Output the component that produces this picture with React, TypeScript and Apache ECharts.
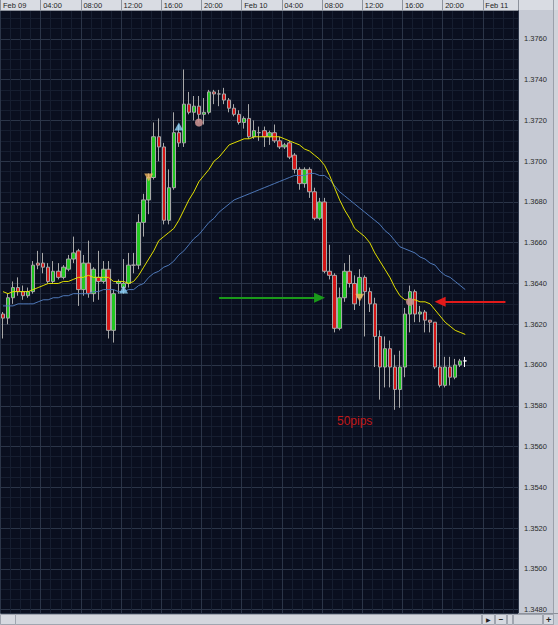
import React, { useEffect, useRef } from 'react';
import * as echarts from 'echarts';

// Header (time) labels, one every 8 half-hour slots
const headerLabels = ['Feb 09', '04:00', '08:00', '12:00', '16:00', '20:00', 'Feb 10', '04:00', '08:00', '12:00', '16:00', '20:00', 'Feb 11'];
const dayNames = ['Feb 09', 'Feb 10', 'Feb 11'];
const slotCount = 103; // half-hour slots visible in the window

// 30-minute candles: [open, close, low, high]
const candles = [
  [1.3625, 1.3623, 1.3613, 1.3626], [1.3623, 1.3633, 1.3620, 1.3635], [1.3633, 1.3638, 1.3630, 1.3641], [1.3638, 1.3636, 1.3634, 1.3643],
  [1.3636, 1.3634, 1.3632, 1.3639], [1.3634, 1.3636, 1.3633, 1.3638], [1.3636, 1.3649, 1.3635, 1.3651], [1.3650, 1.3649, 1.3647, 1.3656],
  [1.3650, 1.3648, 1.3645, 1.3655], [1.3648, 1.3641, 1.3640, 1.3650], [1.3641, 1.3646, 1.3640, 1.3651], [1.3646, 1.3643, 1.3642, 1.3650],
  [1.3643, 1.3648, 1.3642, 1.3649], [1.3647, 1.3652, 1.3646, 1.3654], [1.3652, 1.3655, 1.3650, 1.3663], [1.3656, 1.3637, 1.3629, 1.3657],
  [1.3637, 1.3650, 1.3634, 1.3654], [1.3650, 1.3635, 1.3633, 1.3661], [1.3635, 1.3647, 1.3631, 1.3648], [1.3643, 1.3641, 1.3632, 1.3656],
  [1.3641, 1.3647, 1.3640, 1.3651], [1.3647, 1.3617, 1.3613, 1.3651], [1.3617, 1.3635, 1.3611, 1.3637], [1.3640, 1.3641, 1.3635, 1.3642],
  [1.3638, 1.3640, 1.3635, 1.3652], [1.3640, 1.3649, 1.3638, 1.3655], [1.3649, 1.3649, 1.3645, 1.3655], [1.3649, 1.3670, 1.3647, 1.3674],
  [1.3670, 1.3681, 1.3663, 1.3684], [1.3681, 1.3692, 1.3674, 1.3694], [1.3692, 1.3712, 1.3691, 1.3719], [1.3712, 1.3707, 1.3700, 1.3721],
  [1.3707, 1.3671, 1.3669, 1.3709], [1.3671, 1.3687, 1.3669, 1.3696], [1.3687, 1.3714, 1.3686, 1.3724], [1.3714, 1.3709, 1.3707, 1.3718],
  [1.3709, 1.3728, 1.3707, 1.3745], [1.3728, 1.3724, 1.3723, 1.3734], [1.3724, 1.3727, 1.3720, 1.3732], [1.3727, 1.3723, 1.3719, 1.3732],
  [1.3723, 1.3724, 1.3718, 1.3731], [1.3724, 1.3734, 1.3723, 1.3735], [1.3734, 1.3733, 1.3728, 1.3735], [1.3733, 1.3733, 1.3727, 1.3735],
  [1.3733, 1.3730, 1.3728, 1.3736], [1.3730, 1.3726, 1.3724, 1.3731], [1.3726, 1.3723, 1.3722, 1.3728], [1.3723, 1.3719, 1.3718, 1.3725],
  [1.3719, 1.3721, 1.3716, 1.3722], [1.3721, 1.3712, 1.3711, 1.3728], [1.3712, 1.3715, 1.3711, 1.3720], [1.3714, 1.3714, 1.3710, 1.3717],
  [1.3715, 1.3712, 1.3707, 1.3717], [1.3712, 1.3714, 1.3708, 1.3715], [1.3714, 1.3710, 1.3709, 1.3718], [1.3710, 1.3707, 1.3706, 1.3712],
  [1.3707, 1.3708, 1.3706, 1.3709], [1.3709, 1.3702, 1.3701, 1.3710], [1.3703, 1.3696, 1.3694, 1.3704], [1.3696, 1.3689, 1.3686, 1.3697],
  [1.3689, 1.3696, 1.3687, 1.3697], [1.3696, 1.3685, 1.3682, 1.3697], [1.3685, 1.3672, 1.3671, 1.3687], [1.3672, 1.3680, 1.3671, 1.3682],
  [1.3680, 1.3646, 1.3645, 1.3682], [1.3646, 1.3644, 1.3642, 1.3659], [1.3644, 1.3618, 1.3616, 1.3645], [1.3618, 1.3633, 1.3617, 1.3638],
  [1.3633, 1.3646, 1.3631, 1.3650], [1.3646, 1.3640, 1.3638, 1.3654], [1.3640, 1.3630, 1.3627, 1.3644], [1.3633, 1.3643, 1.3629, 1.3647],
  [1.3643, 1.3636, 1.3614, 1.3644], [1.3636, 1.3630, 1.3626, 1.3638], [1.3630, 1.3614, 1.3599, 1.3633], [1.3614, 1.3599, 1.3583, 1.3617],
  [1.3599, 1.3608, 1.3589, 1.3614], [1.3608, 1.3599, 1.3589, 1.3612], [1.3599, 1.3588, 1.3578, 1.3605], [1.3588, 1.3599, 1.3579, 1.3607],
  [1.3599, 1.3625, 1.3594, 1.3628], [1.3625, 1.3636, 1.3616, 1.3639], [1.3636, 1.3625, 1.3621, 1.3637], [1.3625, 1.3626, 1.3621, 1.3629],
  [1.3626, 1.3622, 1.3616, 1.3627], [1.3622, 1.3621, 1.3616, 1.3622], [1.3621, 1.3599, 1.3598, 1.3621], [1.3599, 1.3590, 1.3589, 1.3611],
  [1.3590, 1.3599, 1.3589, 1.3604], [1.3599, 1.3594, 1.3590, 1.3604], [1.3594, 1.3600, 1.3593, 1.3603], [1.3600, 1.3602, 1.3599, 1.3603],
  [1.3602, 1.3602, 1.3599, 1.3604],
];

// Fast moving average (yellow)
const maFast = [
  1.3636, 1.3635, 1.3636, 1.3636, 1.3636, 1.3636, 1.3637, 1.3638, 1.3639, 1.3640,
  1.3640, 1.3640, 1.3641, 1.3641, 1.3642, 1.3643, 1.3643, 1.3644, 1.3643, 1.3643,
  1.3643, 1.3643, 1.3641, 1.3641, 1.3641, 1.3640, 1.3641, 1.3644, 1.3648, 1.3652,
  1.3656, 1.3661, 1.3663, 1.3665, 1.3667, 1.3671, 1.3676, 1.3681, 1.3685, 1.3690,
  1.3693, 1.3696, 1.3700, 1.3702, 1.3705, 1.3708, 1.3709, 1.3710, 1.3711, 1.3711,
  1.3712, 1.3712, 1.3712, 1.3712, 1.3712, 1.3712, 1.3711, 1.3710, 1.3709, 1.3708,
  1.3706, 1.3705, 1.3703, 1.3701, 1.3698, 1.3693, 1.3687, 1.3681, 1.3676, 1.3672,
  1.3667, 1.3665, 1.3663, 1.3660, 1.3655, 1.3651, 1.3647, 1.3643, 1.3638, 1.3634,
  1.3632, 1.3632, 1.3632, 1.3631, 1.3631, 1.3630, 1.3627, 1.3624, 1.3621, 1.3619,
  1.3617, 1.3616, 1.3615,
];

// Slow moving average (blue)
const maSlow = [
  1.3629, 1.3629, 1.3629, 1.3630, 1.3630, 1.3630, 1.3630, 1.3631, 1.3632, 1.3632,
  1.3633, 1.3633, 1.3634, 1.3634, 1.3635, 1.3635, 1.3635, 1.3635, 1.3636, 1.3636,
  1.3637, 1.3637, 1.3637, 1.3636, 1.3636, 1.3637, 1.3637, 1.3639, 1.3640, 1.3643,
  1.3645, 1.3646, 1.3648, 1.3649, 1.3651, 1.3654, 1.3656, 1.3659, 1.3662, 1.3664,
  1.3667, 1.3670, 1.3672, 1.3675, 1.3677, 1.3679, 1.3681, 1.3682, 1.3683, 1.3684,
  1.3685, 1.3686, 1.3687, 1.3688, 1.3689, 1.3690, 1.3691, 1.3692, 1.3693, 1.3693,
  1.3693, 1.3694, 1.3694, 1.3693, 1.3693, 1.3691, 1.3688, 1.3685, 1.3683, 1.3681,
  1.3679, 1.3677, 1.3675, 1.3673, 1.3671, 1.3669, 1.3666, 1.3664, 1.3661, 1.3658,
  1.3657, 1.3656, 1.3655, 1.3653, 1.3652, 1.3650, 1.3649, 1.3646, 1.3644, 1.3643,
  1.3641, 1.3639, 1.3637,
];

// Signal markers: [slot index, price]
const buySignals = [[24, 1.3637], [35, 1.3717]];
const sellSignals = [[29, 1.3692], [71, 1.3633]];
const circleSignals = [[39, 1.3719], [81, 1.3631]];

// Annotation arrows: [from slot, to slot, price]
const greenArrow = [43, 63, 1.3633];
const redArrow = [100, 87, 1.3631];
const pipsNote = '50pips';

const yMin = 1.34783;
const yMax = 1.37742;

export default function App() {
  const ref = useRef<HTMLDivElement>(null);

  useEffect(() => {
    if (!ref.current) return;
    const chart = echarts.init(ref.current, null, { renderer: 'svg' });

    const cats = Array.from({ length: slotCount }, (_, i) => {
      const h = Math.floor(i / 2) % 24;
      const d = dayNames[Math.floor(i / 48)];
      return `${d} ${String(h).padStart(2, '0')}:${i % 2 ? '30' : '00'}`;
    });

    const candleData = candles.map((c, i) =>
      i === candles.length - 1
        ? { value: c, itemStyle: { color: '#ffffff', color0: '#ffffff', borderColor: '#ffffff', borderColor0: '#ffffff' } }
        : c
    );

    const font = '"Liberation Sans", Arial, sans-serif';
    const panel = '#c6cad4';
    const header = '#d9dce3';
    const edge = '#8d929c';

    const option: any = {
      animation: false,
      backgroundColor: panel,
      textStyle: { fontFamily: font },
      grid: { left: 0, top: 10, width: 518, height: 603, show: true, backgroundColor: '#0a0f1f', borderWidth: 0 },
      xAxis: [
        {
          type: 'category', data: cats, position: 'top', boundaryGap: true, z: 1,
          axisLine: { show: true, lineStyle: { color: edge, width: 1 } },
          axisTick: { show: true, interval: 7, length: 10, lineStyle: { color: edge, width: 1 } },
          axisLabel: {
            show: true, interval: 7, align: 'left', verticalAlign: 'middle', margin: 5,
            color: '#1e1e1e', fontSize: 7.5, fontFamily: font,
            formatter: (_v: string, i: number) => headerLabels[i / 8] ?? '',
          },
          splitLine: { show: true, interval: 7, lineStyle: { color: '#2b3548', width: 1 } },
        },
        {
          type: 'category', data: cats, position: 'top', boundaryGap: true, z: 0,
          axisLine: { show: false }, axisTick: { show: false }, axisLabel: { show: false },
          splitLine: { show: true, interval: 1, lineStyle: { color: '#161e30', width: 1 } },
        },
      ],
      yAxis: {
        type: 'value', position: 'right', min: yMin, max: yMax, splitNumber: 15,
        axisLine: { show: false }, axisTick: { show: false },
        axisLabel: {
          show: true, margin: 6, color: '#2a2a2a', fontSize: 7.5, fontFamily: font,
          showMinLabel: false, showMaxLabel: false,
          formatter: (v: number) => v.toFixed(4),
        },
        splitLine: { show: true, lineStyle: { color: '#2b3548', width: 1 } },
        minorTick: { show: false, splitNumber: 4 },
        minorSplitLine: { show: true, lineStyle: { color: '#161e30', width: 1 } },
      },
      series: [
        {
          type: 'candlestick', data: candleData, barWidth: 4, z: 2,
          itemStyle: { color: '#22c722', color0: '#d41616', borderColor: '#a8a8a8', borderColor0: '#a8a8a8', borderWidth: 1 },
          markLine: {
            silent: true, symbol: ['none', 'triangle'], symbolSize: [10, 11],
            label: { show: false }, emphasis: { disabled: true },
            data: [
              [
                { coord: [greenArrow[0], greenArrow[2]], lineStyle: { color: '#1a9a1a', width: 2, type: 'solid' } },
                { coord: [greenArrow[1], greenArrow[2]] },
              ],
              [
                { coord: [redArrow[0], redArrow[2]], lineStyle: { color: '#e21a1a', width: 2, type: 'solid' } },
                { coord: [redArrow[1], redArrow[2]] },
              ],
            ],
          },
        },
        { type: 'line', data: maSlow, symbol: 'none', z: 3, lineStyle: { color: '#4e78b8', width: 1 } },
        { type: 'line', data: maFast, symbol: 'none', z: 3, lineStyle: { color: '#e2e000', width: 1 } },
        { type: 'scatter', data: buySignals, symbol: 'triangle', symbolSize: [9, 8], z: 5, itemStyle: { color: '#8fd3f7' } },
        { type: 'scatter', data: sellSignals, symbol: 'triangle', symbolRotate: 180, symbolSize: [9, 8], z: 5, itemStyle: { color: '#f4b860' } },
        { type: 'scatter', data: circleSignals, symbol: 'circle', symbolSize: 8, z: 5, itemStyle: { color: '#c8908f', opacity: 0.9 } },
      ],
      graphic: [
        // header strip
        { type: 'rect', z: -10, shape: { x: 0, y: 0, width: 558, height: 10 }, style: { fill: header } },
        { type: 'line', z: -9, shape: { x1: 518.5, y1: 0, x2: 518.5, y2: 613 }, style: { stroke: edge, lineWidth: 1 } },
        { type: 'rect', z: -10, shape: { x: 553, y: 10, width: 5, height: 603 }, style: { fill: '#d0d3da' } },
        { type: 'line', z: -9, shape: { x1: 553.5, y1: 0, x2: 553.5, y2: 625 }, style: { stroke: '#9ba0aa', lineWidth: 1 } },
        // bottom scroll bar
        { type: 'rect', z: -10, shape: { x: 0, y: 613, width: 558, height: 12 }, style: { fill: '#c9cdd6' } },
        { type: 'line', z: -9, shape: { x1: 0, y1: 613.5, x2: 558, y2: 613.5 }, style: { stroke: edge, lineWidth: 1 } },
        { type: 'rect', z: -9, shape: { x: 0.5, y: 614.5, width: 15, height: 10 }, style: { fill: '#d6d9e0', stroke: '#a0a5af', lineWidth: 1 } },
        { type: 'rect', z: -9, shape: { x: 15.5, y: 614.5, width: 466, height: 10 }, style: { fill: '#d3d6dd', stroke: '#a0a5af', lineWidth: 1 } },
        { type: 'rect', z: -9, shape: { x: 482.5, y: 614.5, width: 12, height: 10 }, style: { fill: '#d6d9e0', stroke: '#a0a5af', lineWidth: 1 } },
        { type: 'rect', z: -9, shape: { x: 495.5, y: 614.5, width: 11, height: 10 }, style: { fill: '#d6d9e0', stroke: '#a0a5af', lineWidth: 1 } },
        { type: 'rect', z: -9, shape: { x: 507.5, y: 614.5, width: 5, height: 10 }, style: { fill: '#d6d9e0', stroke: '#a0a5af', lineWidth: 1 } },
        { type: 'rect', z: -9, shape: { x: 513.5, y: 614.5, width: 29, height: 10 }, style: { fill: '#d3d6dd', stroke: '#a0a5af', lineWidth: 1 } },
        { type: 'rect', z: -9, shape: { x: 543.5, y: 614.5, width: 10, height: 10 }, style: { fill: '#d6d9e0', stroke: '#a0a5af', lineWidth: 1 } },
        { type: 'text', z: -8, x: 488.5, y: 619.5, style: { text: '▶', fill: '#222', font: `6px ${font}`, align: 'center', verticalAlign: 'middle' } },
        { type: 'text', z: -8, x: 501, y: 619.5, style: { text: '−', fill: '#222', font: `bold 8px ${font}`, align: 'center', verticalAlign: 'middle' } },
        { type: 'text', z: -8, x: 548.5, y: 619.5, style: { text: '+', fill: '#222', font: `bold 9px ${font}`, align: 'center', verticalAlign: 'middle' } },
        // annotation text
        { type: 'text', z: 50, x: 337, y: 421, style: { text: pipsNote, fill: '#c01818', font: `12px ${font}`, verticalAlign: 'middle' } },
      ],
    };

    chart.setOption(option);
    return () => chart.dispose();
  }, []);

  return <div ref={ref} style={{ position: 'absolute', left: 0, top: 0, width: 558, height: 625 }} />;
}
